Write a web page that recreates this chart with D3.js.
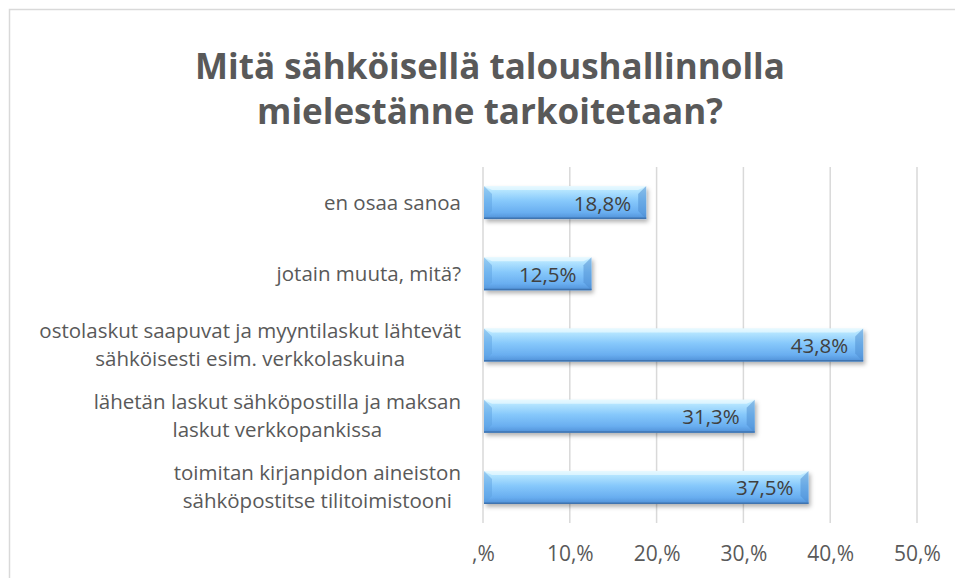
<!DOCTYPE html>
<html>
<head>
<meta charset="utf-8">
<script src="https://cdn.jsdelivr.net/npm/d3@7"></script>
<style>
  body { margin: 0; background: #fff; }
  svg { display: block; font-family: "Open Sans", sans-serif; }
</style>
</head>
<body>
<svg id="chart"></svg>
<script>
// data
const titleLines = ["Mitä sähköisellä taloushallinnolla", "mielestänne tarkoitetaan?"];
const categoryLines = [
  ["en osaa sanoa"],
  ["jotain muuta, mitä?"],
  ["ostolaskut saapuvat ja myyntilaskut lähtevät", "sähköisesti esim. verkkolaskuina"],
  ["lähetän laskut sähköpostilla ja maksan", "laskut verkkopankissa"],
  ["toimitan kirjanpidon aineiston", "sähköpostitse tilitoimistooni"]
];
const values = [0.188, 0.125, 0.438, 0.313, 0.375];
const valueLabels = ["18,8%", "12,5%", "43,8%", "31,3%", "37,5%"];
const tickValues = [0, 0.1, 0.2, 0.3, 0.4, 0.5];
const tickLabels = [",%", "10,%", "20,%", "30,%", "40,%", "50,%"];

const config = {
  width: 955, height: 578,
  margin: { top: 167, right: 38, bottom: 55, left: 483 }
};

const width = config.width - config.margin.left - config.margin.right;
const height = config.height - config.margin.top - config.margin.bottom;

const svg = d3.select('#chart')
  .attr('width', config.width)
  .attr('height', config.height);

// chart frame (only top and left edges show)
svg.append('rect')
  .attr('x', 9.5).attr('y', 9.5)
  .attr('width', 1000).attr('height', 600)
  .attr('fill', '#fff')
  .attr('stroke', '#d9d9d9')
  .attr('stroke-width', 1.5);

const defs = svg.append('defs');
const grad = defs.append('linearGradient')
  .attr('id', 'barGrad').attr('x1', 0).attr('y1', 0).attr('x2', 0).attr('y2', 1);
[[0, '#dff7ff'], [0.12, '#b6e6ff'], [0.45, '#86c8fb'], [0.8, '#69aef0'], [1, '#4f8fd6']]
  .forEach(s => grad.append('stop').attr('offset', s[0]).attr('stop-color', s[1]));

const shadow = defs.append('filter').attr('id', 'shadow')
  .attr('x', '-5%').attr('y', '-20%').attr('width', '115%').attr('height', '160%');
shadow.append('feDropShadow')
  .attr('dx', 2).attr('dy', 3).attr('stdDeviation', 2)
  .attr('flood-color', '#000').attr('flood-opacity', 0.3);

// title
svg.append('g')
  .selectAll('text')
  .data(titleLines)
  .join('text')
  .attr('x', 490)
  .attr('y', (d, i) => 79 + i * 45)
  .attr('text-anchor', 'middle')
  .attr('font-size', 35)
  .attr('font-weight', 'bold')
  .attr('fill', '#595959')
  .text(d => d);

const chart = svg.append('g')
  .attr('transform', `translate(${config.margin.left},${config.margin.top})`);

const xScale = d3.scaleLinear().domain([0, 0.5]).range([0, width]);
const yScale = d3.scaleBand()
  .domain(d3.range(values.length))
  .range([0, height])
  .paddingInner(0.537)
  .paddingOuter(0.537 / 2);

// gridlines
chart.append('g')
  .selectAll('line')
  .data(tickValues)
  .join('line')
  .attr('x1', d => xScale(d)).attr('x2', d => xScale(d))
  .attr('y1', 0).attr('y2', height)
  .attr('stroke', '#d9d9d9')
  .attr('stroke-width', 1.5);

// x axis labels
const xAxis = d3.axisBottom(xScale)
  .tickValues(tickValues)
  .tickFormat((d, i) => tickLabels[i])
  .tickSize(0)
  .tickPadding(23);
const xAxisG = chart.append('g')
  .attr('class', 'axis x-axis')
  .attr('transform', `translate(0,${height})`)
  .call(xAxis);
xAxisG.select('.domain').remove();
xAxisG.selectAll('text')
  .attr('font-family', '"Open Sans", sans-serif')
  .attr('font-size', 21)
  .attr('fill', '#595959');

// bars
const bw = yScale.bandwidth();
const bars = chart.append('g')
  .selectAll('g')
  .data(values)
  .join('g')
  .attr('transform', (d, i) => `translate(0,${yScale(i)})`);

bars.append('rect')
  .attr('x', 1)
  .attr('width', d => xScale(d) - 1)
  .attr('height', bw)
  .attr('fill', 'url(#barGrad)')
  .attr('filter', 'url(#shadow)');

// bevel edges
const bev = 8;
bars.append('path')
  .attr('d', d => `M1,0 L${1 + bev},${bev} L${1 + bev},${bw - bev} L1,${bw} Z`)
  .attr('fill', '#5a9fe0').attr('opacity', 0.45);
bars.append('path')
  .attr('d', d => { const e = xScale(d); return `M${e},0 L${e - bev},${bev} L${e - bev},${bw - bev} L${e},${bw} Z`; })
  .attr('fill', '#4c8bd0').attr('opacity', 0.5);
bars.append('path')
  .attr('d', d => { const e = xScale(d); return `M1,0 L${e},0 L${e - bev},${bev * 0.5} L${1 + bev},${bev * 0.5} Z`; })
  .attr('fill', '#eafaff').attr('opacity', 0.7);
bars.append('line')
  .attr('x1', 1).attr('x2', d => xScale(d))
  .attr('y1', bw - 0.75).attr('y2', bw - 0.75)
  .attr('stroke', '#3f74b0').attr('stroke-width', 1.5);

// value labels
bars.append('text')
  .attr('x', d => xScale(d) - 15)
  .attr('y', bw / 2 + 8)
  .attr('text-anchor', 'end')
  .attr('font-size', 20.5)
  .attr('fill', '#404040')
  .text((d, i) => valueLabels[i]);

// category labels, lines centred on each other, block right aligned
const labelRight = 461 - config.margin.left;
const catG = chart.append('g')
  .selectAll('g')
  .data(categoryLines)
  .join('g')
  .attr('transform', (d, i) => `translate(0,${yScale(i) + bw / 2})`);

catG.each(function(lines) {
  const g = d3.select(this);
  const texts = g.selectAll('text')
    .data(lines)
    .join('text')
    .attr('y', (d, j) => 7 + (j - (lines.length - 1) / 2) * 28)
    .attr('font-size', 20.5)
    .attr('fill', '#595959')
    .attr('text-anchor', 'middle')
    .text(d => d);
  const maxW = d3.max(texts.nodes(), n => n.getComputedTextLength());
  texts.attr('x', labelRight - maxW / 2);
});
</script>
</body>
</html>
